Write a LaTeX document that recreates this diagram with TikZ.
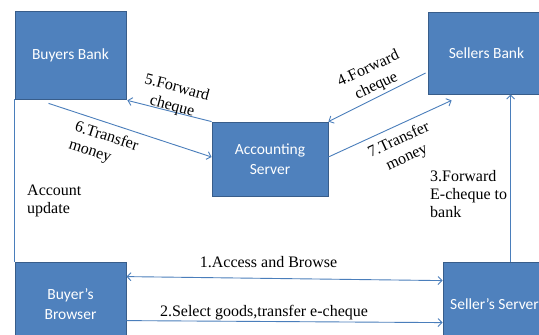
\documentclass[tikz,border=0pt]{standalone}
\usepackage{fontspec}
\setmainfont{Liberation Serif}
\newfontfamily\boxfont{Carlito}
\usetikzlibrary{arrows.meta}
\definecolor{boxfill}{HTML}{4F81BD}
\definecolor{boxedge}{HTML}{385D8A}
\definecolor{linkc}{HTML}{4A7EBB}
\begin{document}
\begin{tikzpicture}[x=1pt,y=-1pt,
  box/.style={draw=boxedge, line width=0.8pt, fill=boxfill, text=white,
    font=\boxfont\fontsize{15.5}{20}\selectfont, align=center, inner sep=0pt},
  lab/.style={font=\fontsize{16}{18}\selectfont, inner sep=0pt, text=black},
  rlab/.style={lab, font=\fontsize{16}{19}\selectfont},
  link/.style={draw=linkc, line width=0.9pt},
  >={Straight Barb[length=4pt,width=8pt]}]
\useasboundingbox (0,0) rectangle (539,335);
\clip (0,0) rectangle (539,335);
\fill[white] (0,0) rectangle (539,335);

\node[box, minimum width=111pt, minimum height=88pt] (bb) at (70.5,55) {Buyers Bank};
\node[box, minimum width=117pt, minimum height=82pt] (sb) at (486.5,53) {Sellers Bank};
\node[box, minimum width=116pt, minimum height=74pt] (acc) at (270,159) {Accounting\\Server};
\node[box, minimum width=111pt, minimum height=84pt] (br) at (70.5,304) {Buyer’s\\Browser};
\node[box, minimum width=103pt, minimum height=84pt] (ss) at (494.5,304) {Seller’s Server};

\coordinate (c3) at ([xshift=68pt]ss.north west);

\draw[link] (bb.south west) -- (br.north west);
\draw[link,->] (acc.north west) -- ([shift={(1,1)}]bb.south east);
\draw[link,->] ([shift={(34,4)}]bb.south west) -- ([shift={(0,-2)}]acc.west);
\draw[link,->] ([shift={(-2,20)}]sb.west) -- (acc.north east);
\draw[link,->] ([shift={(0,-2)}]acc.east) -- ([shift={(24,6)}]sb.south west);
\draw[link,->] (c3) -- (c3 |- sb.south);
\draw[link,<->] ([shift={(0,15)}]br.north east) -- ([shift={(0,19)}]ss.north west);
\draw[link,->] ([shift={(0,59)}]br.north east) -- ([shift={(0,61)}]ss.north west);

\node[rlab, rotate=-15, align=center] (l5) at (174.5,97.5) {5.Forward\\cheque};
\node[rlab, rotate=-18, align=left] (l6) at (103.5,146) {6.Transfer\\money};
\node[rlab, rotate=25, align=center] (l4) at (372.5,77.5) {4.Forward\\cheque};
\node[rlab, rotate=25, align=center] (l7) at (403,149) {7.Transfer\\money};
\node[lab, align=left, anchor=west] (l3) at (430,194.5) {3.Forward\\E-cheque to\\bank};
\node[lab, align=left, anchor=west] (lacc) at (27,201) {Account\\update};
\node[lab] (l1) at (268.5,262) {1.Access and Browse};
\node[lab] (l2) at (264,312.5) {2.Select goods,transfer e-cheque};
\end{tikzpicture}
\end{document}
